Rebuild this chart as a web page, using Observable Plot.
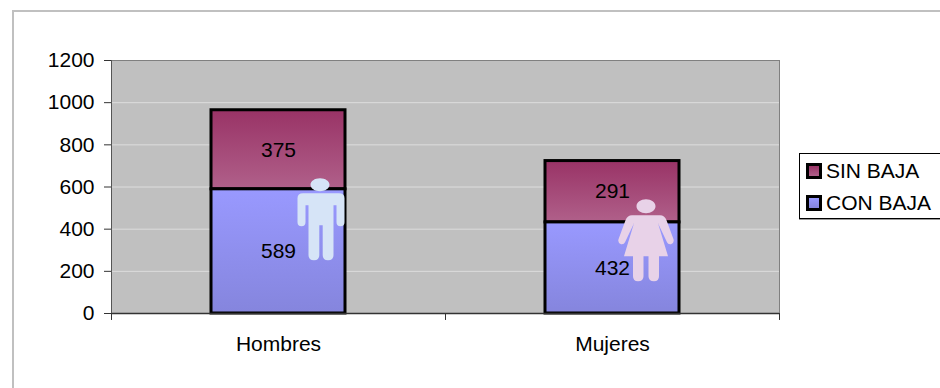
<!DOCTYPE html>
<html>
<head>
<meta charset="utf-8">
<script src="https://cdn.jsdelivr.net/npm/d3@7"></script>
<script src="https://cdn.jsdelivr.net/npm/@observablehq/plot@0.6"></script>
<style>
  html, body { margin: 0; padding: 0; background: #fff; overflow: hidden; }
  #page { position: relative; width: 940px; height: 388px; overflow: hidden; font-family: "Liberation Sans", Arial, sans-serif; color: #000; }
  #page svg { position: absolute; left: 0; top: 0; }
  #border { position: absolute; left: 12px; top: 10px; width: 1000px; height: 500px; border: 2px solid #c0c0c0; box-sizing: border-box; }
  #legend { position: absolute; left: 799px; top: 153px; width: 200px; height: 66px; border: 1px solid #000; box-shadow: 0 1px 0 #999; background: #fff; box-sizing: border-box; font-size: 21px; }
  .row { position: absolute; left: 6px; height: 24px; line-height: 24px; white-space: nowrap; }
  .sw { display: inline-block; width: 10px; height: 10px; border: 3px solid #000; margin-right: 4px; vertical-align: -1px; }
</style>
</head>
<body>
<div id="page">
  <div id="border"></div>
  <div id="chart"></div>
  <div id="legend">
    <div class="row" style="top:5px"><span class="sw" style="background:linear-gradient(#993366,#B0608A)"></span>SIN BAJA</div>
    <div class="row" style="top:37px"><span class="sw" style="background:linear-gradient(#9999FF,#8585DD)"></span>CON BAJA</div>
  </div>
</div>
<script>
const categories = ["Hombres", "Mujeres"];
const conBaja = [589, 432];
const sinBaja = [375, 291];
const yTicks = [0, 200, 400, 600, 800, 1000, 1200];
const gridTicks = [200, 400, 600, 800, 1000];

const lower = categories.map((c, i) => ({cat: c, y1: 0, y2: conBaja[i], label: conBaja[i]}));
const upper = categories.map((c, i) => ({cat: c, y1: conBaja[i], y2: conBaja[i] + sinBaja[i], label: sinBaja[i]}));

function gradients() {
  const defs = d3.create("svg:defs");
  const add = (id, a, b) => {
    const g = defs.append("linearGradient").attr("id", id).attr("x1", 0).attr("y1", 0).attr("x2", 0).attr("y2", 1);
    g.append("stop").attr("offset", "0%").attr("stop-color", a);
    g.append("stop").attr("offset", "100%").attr("stop-color", b);
  };
  add("gSin", "#993366", "#B0608A");
  add("gCon", "#9999FF", "#8585DD");
  return defs.node();
}

function ellipse(c, cx, cy, rx, ry) {
  const k = 0.5523;
  c.moveTo(cx - rx, cy);
  c.bezierCurveTo(cx - rx, cy - k * ry, cx - k * rx, cy - ry, cx, cy - ry);
  c.bezierCurveTo(cx + k * rx, cy - ry, cx + rx, cy - k * ry, cx + rx, cy);
  c.bezierCurveTo(cx + rx, cy + k * ry, cx + k * rx, cy + ry, cx, cy + ry);
  c.bezierCurveTo(cx - k * rx, cy + ry, cx - rx, cy + k * ry, cx - rx, cy);
  c.closePath();
}

// Pictogram symbols, centred on their anchor point.
const manSymbol = {
  draw(c) {
    ellipse(c, -1, -37.5, 9.5, 6.5);
    c.moveTo(-18, -29);
    c.lineTo(18, -29); c.quadraticCurveTo(23.5, -29, 23.5, -24);
    c.lineTo(23.5, 0); c.quadraticCurveTo(23.5, 4, 19.5, 4); c.quadraticCurveTo(15.5, 4, 15.5, 0);
    c.lineTo(15.5, -17); c.lineTo(12.5, -17);
    c.lineTo(12.5, 33); c.quadraticCurveTo(12.5, 38, 7, 38); c.quadraticCurveTo(1.7, 38, 1.7, 33);
    c.lineTo(1.7, 3); c.lineTo(-1.7, 3);
    c.lineTo(-1.7, 33); c.quadraticCurveTo(-1.7, 38, -7, 38); c.quadraticCurveTo(-12.5, 38, -12.5, 33);
    c.lineTo(-12.5, -17); c.lineTo(-15.5, -17);
    c.lineTo(-15.5, 0); c.quadraticCurveTo(-15.5, 4, -19.5, 4); c.quadraticCurveTo(-23.5, 4, -23.5, 0);
    c.lineTo(-23.5, -24); c.quadraticCurveTo(-23.5, -29, -18, -29);
    c.closePath();
  }
};
const womanSymbol = {
  draw(c) {
    ellipse(c, 0, -34, 9.5, 7);
    c.moveTo(-14, -25);
    c.lineTo(14, -25); c.quadraticCurveTo(18.5, -25, 20.5, -20);
    c.lineTo(27.5, -1); c.quadraticCurveTo(28.5, 3, 25, 4); c.quadraticCurveTo(22, 4.5, 21, 2);
    c.lineTo(12, -17); c.lineTo(22, 16);
    c.lineTo(13, 16); c.lineTo(13, 36); c.quadraticCurveTo(13, 41, 8, 41); c.quadraticCurveTo(2.5, 41, 2.5, 36);
    c.lineTo(2.5, 16); c.lineTo(-2.5, 16);
    c.lineTo(-2.5, 36); c.quadraticCurveTo(-2.5, 41, -8, 41); c.quadraticCurveTo(-13, 41, -13, 36);
    c.lineTo(-13, 16); c.lineTo(-22, 16); c.lineTo(-12, -17);
    c.lineTo(-21, 2); c.quadraticCurveTo(-22, 4.5, -25, 4); c.quadraticCurveTo(-28.5, 3, -27.5, -1);
    c.lineTo(-20.5, -20); c.quadraticCurveTo(-18.5, -25, -14, -25);
    c.closePath();
  }
};

const chart = Plot.plot({
  width: 940,
  height: 388,
  marginLeft: 111,
  marginRight: 161,
  marginTop: 60,
  marginBottom: 75,
  style: {background: "transparent", fontFamily: "Liberation Sans, Arial, sans-serif", fontSize: "21px", color: "#000", overflow: "visible"},
  x: {domain: categories, paddingInner: 0.6, paddingOuter: 0.3, label: null},
  y: {domain: [0, 1200], label: null},
  marks: [
    gradients,
    Plot.frame({fill: "#C0C0C0", stroke: "#808080", strokeWidth: 1}),
    Plot.ruleY(gridTicks, {stroke: "#DDDDDD", strokeWidth: 1}),
    Plot.barY(upper, {x: "cat", y1: "y1", y2: "y2", fill: "url(#gSin)", stroke: "#000", strokeWidth: 3}),
    Plot.barY(lower, {x: "cat", y1: "y1", y2: "y2", fill: "url(#gCon)", stroke: "#000", strokeWidth: 3}),
    Plot.dot([{cat: "Hombres", v: 433}], {x: "cat", y: "v", dx: 42.5, r: 10, symbol: manSymbol, fill: "#D6E4F7", stroke: "none"}),
    Plot.dot([{cat: "Mujeres", v: 348}], {x: "cat", y: "v", dx: 33.5, r: 10, symbol: womanSymbol, fill: "#E8D2E8", stroke: "none"}),
    Plot.text(lower, {x: "cat", y: d => (d.y1 + d.y2) / 2, text: "label", fontSize: 21, fill: "#000"}),
    Plot.text(upper, {x: "cat", y: d => (d.y1 + d.y2) / 2, text: "label", fontSize: 21, fill: "#000"}),
    Plot.ruleY([0], {stroke: "#333", strokeWidth: 1.5}),
    Plot.ruleX(categories, {x: d => d, dx: -167, y1: 0, y2: -33, stroke: "#333"}),
    Plot.ruleX(["Mujeres"], {x: d => d, dx: 167, y1: 0, y2: -33, stroke: "#333"}),
    Plot.ruleX(["Hombres"], {x: d => d, dx: -167, y1: 0, y2: 1200, stroke: "#555"}),
    Plot.axisY({ticks: yTicks, tickSize: 7, tickPadding: 10, tickFormat: d => String(d), stroke: "#333", fontSize: 21, label: null, color: "#000"}),
    Plot.axisX({tickSize: 0, tickPadding: 23, fontSize: 21, label: null, color: "#000"})
  ]
});
document.getElementById("chart").appendChild(chart);
</script>
</body>
</html>
